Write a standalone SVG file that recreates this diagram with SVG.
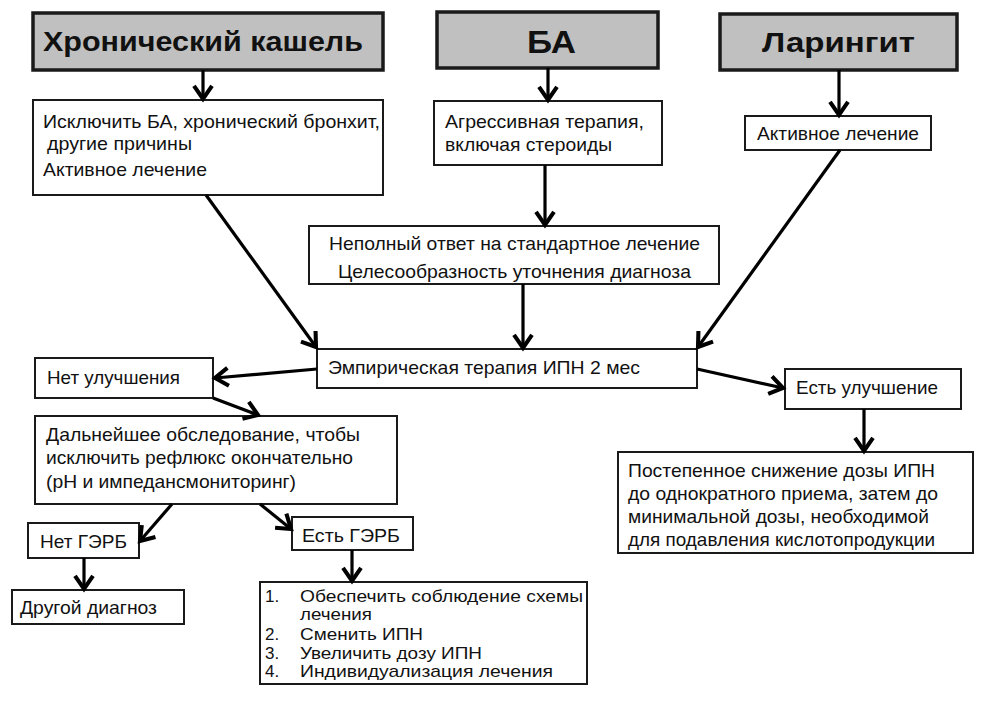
<svg xmlns="http://www.w3.org/2000/svg" width="1000" height="713" viewBox="0 0 1000 713">
<defs>
<style>
.hd{fill:#c0c0c0;stroke:#1a1a1a;stroke-width:3.5}
.bx{fill:#fff;stroke:#1a1a1a;stroke-width:2}
.ht{font-family:"Liberation Sans",Arial,sans-serif;font-weight:bold;fill:#111}
.t{font-family:"Liberation Sans",Arial,sans-serif;font-size:19px;fill:#111}
.l{font-family:"Liberation Sans",Arial,sans-serif;font-size:17px;fill:#111}
.c line{stroke:#000;stroke-width:3.2;marker-end:url(#a)}
</style>
<marker id="a" markerUnits="userSpaceOnUse" markerWidth="24" markerHeight="24" viewBox="-14 -10 18 20" refX="0" refY="0" orient="auto">
<path d="M-11,-7.5 L0,0 L-11,7.5" fill="none" stroke="#000" stroke-width="3.4"/>
</marker>
</defs>
<rect width="1000" height="713" fill="#fff"/>

<g id="h1"><rect class="hd" x="33" y="13" width="350" height="57"/>
<text class="ht" x="43" y="51" font-size="28" textLength="320" lengthAdjust="spacingAndGlyphs">Хронический кашель</text></g>
<g id="h2"><rect class="hd" x="437" y="12" width="221" height="56"/>
<text class="ht" x="527" y="53" font-size="32" textLength="49" lengthAdjust="spacingAndGlyphs">БА</text></g>
<g id="h3"><rect class="hd" x="720" y="14" width="237" height="56"/>
<text class="ht" x="762" y="52" font-size="28" textLength="153" lengthAdjust="spacingAndGlyphs">Ларингит</text></g>

<g id="b1"><rect class="bx" x="33" y="100" width="350" height="95"/>
<text class="t" x="43" y="128" textLength="337" lengthAdjust="spacingAndGlyphs">Исключить БА, хронический бронхит,</text>
<text class="t" x="47" y="150" textLength="145" lengthAdjust="spacingAndGlyphs">другие причины</text>
<text class="t" x="43" y="176" textLength="164" lengthAdjust="spacingAndGlyphs">Активное лечение</text></g>

<g id="b2"><rect class="bx" x="434" y="101" width="228" height="64"/>
<text class="t" x="445" y="128" textLength="199" lengthAdjust="spacingAndGlyphs">Агрессивная терапия,</text>
<text class="t" x="445" y="151" textLength="167" lengthAdjust="spacingAndGlyphs">включая стероиды</text></g>

<g id="b3"><rect class="bx" x="745" y="116" width="186" height="34"/>
<text class="t" x="757" y="140" textLength="162" lengthAdjust="spacingAndGlyphs">Активное лечение</text></g>

<g id="b4"><rect class="bx" x="309" y="226" width="410" height="58"/>
<text class="t" x="329" y="250" textLength="371" lengthAdjust="spacingAndGlyphs">Неполный ответ на стандартное лечение</text>
<text class="t" x="338" y="278" textLength="353" lengthAdjust="spacingAndGlyphs">Целесообразность уточнения диагноза</text></g>

<g id="b5"><rect class="bx" x="317" y="349" width="380" height="39"/>
<text class="t" x="328" y="374" textLength="312" lengthAdjust="spacingAndGlyphs">Эмпирическая терапия ИПН 2 мес</text></g>

<g id="b6"><rect class="bx" x="35" y="358" width="178" height="40"/>
<text class="t" x="47" y="384" textLength="133" lengthAdjust="spacingAndGlyphs">Нет улучшения</text></g>

<g id="b7"><rect class="bx" x="35" y="416" width="362" height="88"/>
<text class="t" x="46" y="441" textLength="314" lengthAdjust="spacingAndGlyphs">Дальнейшее обследование, чтобы</text>
<text class="t" x="46" y="464" textLength="307" lengthAdjust="spacingAndGlyphs">исключить рефлюкс окончательно</text>
<text class="t" x="46" y="488" textLength="250" lengthAdjust="spacingAndGlyphs">(рН и импедансмониторинг)</text></g>

<g id="b8"><rect class="bx" x="785" y="369" width="176" height="40"/>
<text class="t" x="796" y="394" textLength="142" lengthAdjust="spacingAndGlyphs">Есть улучшение</text></g>

<g id="b9"><rect class="bx" x="618" y="452" width="355" height="101"/>
<text class="t" x="628" y="477" textLength="307" lengthAdjust="spacingAndGlyphs">Постепенное снижение дозы ИПН</text>
<text class="t" x="628" y="500" textLength="310" lengthAdjust="spacingAndGlyphs">до однократного приема, затем до</text>
<text class="t" x="628" y="523" textLength="301" lengthAdjust="spacingAndGlyphs">минимальной дозы, необходимой</text>
<text class="t" x="628" y="546" textLength="307" lengthAdjust="spacingAndGlyphs">для подавления кислотопродукции</text></g>

<g id="b10"><rect class="bx" x="28" y="523" width="111" height="35"/>
<text class="t" x="40" y="548" textLength="87" lengthAdjust="spacingAndGlyphs">Нет ГЭРБ</text></g>

<g id="b11"><rect class="bx" x="12" y="590" width="172" height="34"/>
<text class="t" x="20" y="614" textLength="137" lengthAdjust="spacingAndGlyphs">Другой диагноз</text></g>

<g id="b12"><rect class="bx" x="292" y="517" width="121" height="33"/>
<text class="t" x="302" y="542" textLength="98" lengthAdjust="spacingAndGlyphs">Есть ГЭРБ</text></g>

<g id="b13"><rect class="bx" x="260" y="582" width="327" height="102"/>
<text class="l" x="265" y="602">1.</text>
<text class="l" x="300" y="602" textLength="283" lengthAdjust="spacingAndGlyphs">Обеспечить соблюдение схемы</text>
<text class="l" x="300" y="620" textLength="72" lengthAdjust="spacingAndGlyphs">лечения</text>
<text class="l" x="265" y="640">2.</text>
<text class="l" x="300" y="640" textLength="123" lengthAdjust="spacingAndGlyphs">Сменить ИПН</text>
<text class="l" x="265" y="659">3.</text>
<text class="l" x="300" y="659" textLength="182" lengthAdjust="spacingAndGlyphs">Увеличить дозу ИПН</text>
<text class="l" x="265" y="677">4.</text>
<text class="l" x="300" y="677" textLength="253" lengthAdjust="spacingAndGlyphs">Индивидуализация лечения</text></g>

<g id="connectors" class="c">
<line x1="203" y1="70" x2="203" y2="99"/>
<line x1="548" y1="68" x2="548" y2="100"/>
<line x1="839" y1="70" x2="839" y2="115"/>
<line x1="206" y1="195" x2="316" y2="347"/>
<line x1="545" y1="165" x2="545" y2="225"/>
<line x1="523" y1="284" x2="523" y2="348"/>
<line x1="840" y1="150" x2="698" y2="347"/>
<line x1="317" y1="369" x2="215" y2="378"/>
<line x1="213" y1="398" x2="258" y2="415"/>
<line x1="697" y1="369" x2="783" y2="388"/>
<line x1="864" y1="409" x2="864" y2="451"/>
<line x1="172" y1="504" x2="140" y2="541"/>
<line x1="260" y1="504" x2="291" y2="529"/>
<line x1="84" y1="558" x2="84" y2="589"/>
<line x1="352" y1="550" x2="352" y2="581"/>
</g>
</svg>
